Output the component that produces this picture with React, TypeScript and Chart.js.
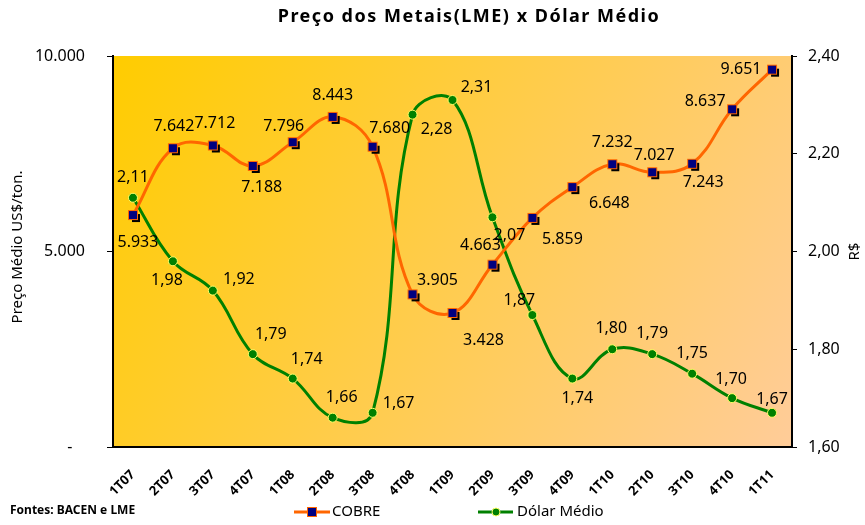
import React, { useEffect, useRef } from "react";
import { Chart, registerables } from "chart.js";
Chart.register(...registerables);

const categories = ["1T07","2T07","3T07","4T07","1T08","2T08","3T08","4T08","1T09","2T09","3T09","4T09","1T10","2T10","3T10","4T10","1T11"];
const copper = [5933,7642,7712,7188,7796,8443,7680,3905,3428,4663,5859,6648,7232,7027,7243,8637,9651];
const dollar = [2.11,1.98,1.92,1.79,1.74,1.66,1.67,2.28,2.31,2.07,1.87,1.74,1.80,1.79,1.75,1.70,1.67];
const leftTicks = [0, 5000, 10000];
const rightTicks = [1.6, 1.8, 2.0, 2.2, 2.4];

const copperLabelOffsets = [[5,27],[1,-22],[2,-22],[9,21],[-9,-16],[0,-21],[17,-18],[25,-14],[31,27],[-12,-19],[30,22],[37,16],[0,-22],[2,-17],[11,19],[-27,-8],[-31,0]];
const dollarLabelOffsets = [[0,-20],[-6,19],[26,-11],[18,-20],[14,-19],[9,-20],[26,-9],[24,15],[24,-13],[17,18],[-13,-15],[5,20],[-1,-21],[0,-21],[0,-20],[-1,-19],[0,-13]];

const FONT = '"Noto Sans", "DejaVu Sans", sans-serif';
const ORANGE = "#FF6600";
const NAVY = "#000080";
const GREEN = "#008000";

function fmtThousands(v: number) {
  return Math.round(v).toString().replace(/\B(?=(\d{3})+(?!\d))/g, ".");
}
function fmtDec(v: number) {
  return v.toFixed(2).replace(".", ",");
}

function makeCopperMarker() {
  const c = document.createElement("canvas");
  c.width = 24; c.height = 24;
  const g = c.getContext("2d")!;
  g.fillStyle = "#000";
  g.fillRect(11, 11, 8, 8);
  g.fillStyle = ORANGE;
  g.fillRect(7, 7, 10, 10);
  g.fillStyle = NAVY;
  g.fillRect(8, 8, 8, 8);
  return c;
}

const bgPlugin = {
  id: "bg",
  beforeDraw(chart: any) {
    const { ctx, chartArea: a, width, height } = chart;
    ctx.save();
    ctx.fillStyle = "#fff";
    ctx.fillRect(0, 0, width, height);
    const grad = ctx.createLinearGradient(a.left, a.top, a.right, a.bottom);
    grad.addColorStop(0, "#FFCC00");
    grad.addColorStop(1, "#FFCC99");
    ctx.fillStyle = grad;
    ctx.fillRect(a.left, a.top, a.right - a.left, a.bottom - a.top);
    ctx.restore();
  },
};

const labelPlugin = {
  id: "labels",
  afterDatasetsDraw(chart: any) {
    const ctx = chart.ctx;
    ctx.save();
    ctx.font = `16px ${FONT}`;
    ctx.fillStyle = "#000";
    ctx.textAlign = "center";
    ctx.textBaseline = "middle";
    const sets = [
      { idx: 0, offs: copperLabelOffsets, fmt: fmtThousands, vals: copper },
      { idx: 1, offs: dollarLabelOffsets, fmt: fmtDec, vals: dollar },
    ];
    for (const s of sets) {
      const meta = chart.getDatasetMeta(s.idx);
      meta.data.forEach((pt: any, i: number) => {
        const [dx, dy] = s.offs[i];
        ctx.fillText(s.fmt(s.vals[i]), pt.x + dx, pt.y + dy);
      });
    }
    ctx.restore();
  },
};

const textPlugin = {
  id: "texts",
  afterDraw(chart: any) {
    const ctx = chart.ctx;
    const a = chart.chartArea;
    ctx.save();
    ctx.fillStyle = "#000";
    // title
    ctx.font = `bold 18px ${FONT}`;
    (ctx as any).letterSpacing = "1.5px";
    ctx.textAlign = "center";
    ctx.textBaseline = "middle";
    ctx.fillText("Preço dos Metais(LME) x Dólar Médio", 469, 17);
    (ctx as any).letterSpacing = "0px";
    // axis titles
    ctx.font = `15px ${FONT}`;
    ctx.save();
    ctx.translate(18, 247);
    ctx.rotate(-Math.PI / 2);
    ctx.fillText("Preço Médio US$/ton.", 0, 0);
    ctx.restore();
    ctx.save();
    ctx.translate(855, (a.top + a.bottom) / 2);
    ctx.rotate(-Math.PI / 2);
    ctx.fillText("R$", 0, 0);
    ctx.restore();
    // footer
    ctx.font = `bold 12px ${FONT}`;
    ctx.textAlign = "left";
    ctx.fillText("Fontes: BACEN e LME", 10, 511);
    // legend
    const ly = 512;
    ctx.lineWidth = 3;
    ctx.strokeStyle = ORANGE;
    ctx.beginPath(); ctx.moveTo(294, ly); ctx.lineTo(330, ly); ctx.stroke();
    ctx.fillStyle = ORANGE; ctx.fillRect(307, ly - 5, 10, 10);
    ctx.fillStyle = NAVY; ctx.fillRect(308, ly - 4, 8, 8);
    ctx.strokeStyle = GREEN;
    ctx.beginPath(); ctx.moveTo(478, ly); ctx.lineTo(513, ly); ctx.stroke();
    ctx.beginPath(); ctx.arc(496, ly, 4, 0, Math.PI * 2);
    ctx.fillStyle = GREEN; ctx.fill();
    ctx.lineWidth = 1; ctx.strokeStyle = "#FFFF66"; ctx.stroke();
    ctx.fillStyle = "#000";
    ctx.font = `15px ${FONT}`;
    ctx.fillText("COBRE", 332, ly);
    ctx.fillText("Dólar Médio", 517, ly);
    ctx.restore();
  },
};

export default function App() {
  const ref = useRef<HTMLCanvasElement>(null);
  useEffect(() => {
    if (!ref.current) return;
    const marker = makeCopperMarker();
    const chart = new Chart(ref.current, {
      type: "line",
      data: {
        labels: categories,
        datasets: [
          {
            label: "COBRE",
            data: copper,
            yAxisID: "y",
            borderColor: ORANGE,
            borderWidth: 3,
            tension: 0.4,
            pointStyle: marker as any,
            pointRadius: 6,
            fill: false,
          },
          {
            label: "Dólar Médio",
            data: dollar,
            yAxisID: "y1",
            borderColor: GREEN,
            borderWidth: 3,
            tension: 0.4,
            pointStyle: "circle",
            pointRadius: 4.5,
            pointBackgroundColor: GREEN,
            pointBorderColor: "#FFFF66",
            pointBorderWidth: 1,
            fill: false,
          },
        ],
      },
      options: {
        responsive: false,
        animation: false,
        devicePixelRatio: 1,
        layout: { padding: { top: 56, left: 0, right: 0, bottom: 0 } },
        plugins: { legend: { display: false }, title: { display: false }, tooltip: { enabled: false } },
        scales: {
          x: {
            offset: true,
            grid: { display: false, drawTicks: false },
            border: { display: true, color: "#000", width: 2 },
            ticks: {
              maxRotation: 45,
              minRotation: 45,
              padding: 20,
              color: "#000",
              font: { family: FONT, size: 13, weight: "bold" },
            },
            afterFit(scale: any) { scale.height = 78; },
          },
          y: {
            position: "left",
            min: 0,
            max: 10000,
            afterBuildTicks(scale: any) { scale.ticks = leftTicks.map((v) => ({ value: v })); },
            grid: { drawOnChartArea: false, drawTicks: true, tickLength: 6, color: "#000", lineWidth: 1 },
            border: { display: true, color: "#000", width: 2 },
            ticks: {
              padding: 22,
              color: "#000",
              font: { family: FONT, size: 16 },
              callback: (v: any) => (Number(v) === 0 ? "-   " : fmtThousands(Number(v))),
            },
            afterFit(scale: any) { scale.width = 113; },
          },
          y1: {
            position: "right",
            min: 1.6,
            max: 2.4,
            afterBuildTicks(scale: any) { scale.ticks = rightTicks.map((v) => ({ value: v })); },
            grid: { drawOnChartArea: false, drawTicks: true, tickLength: 5, color: "#000", lineWidth: 1 },
            border: { display: true, color: "#000", width: 2 },
            ticks: {
              padding: 11,
              color: "#000",
              font: { family: FONT, size: 16 },
              callback: (v: any) => fmtDec(Number(v)),
            },
            afterFit(scale: any) { scale.width = 73; },
          },
        },
      },
      plugins: [bgPlugin, labelPlugin, textPlugin],
    });
    return () => chart.destroy();
  }, []);
  return (
    <div style={{ position: "fixed", left: 0, top: 0, width: 865, height: 525, background: "#fff" }}>
      <canvas ref={ref} width={865} height={525} style={{ width: 865, height: 525, display: "block" }} />
    </div>
  );
}
